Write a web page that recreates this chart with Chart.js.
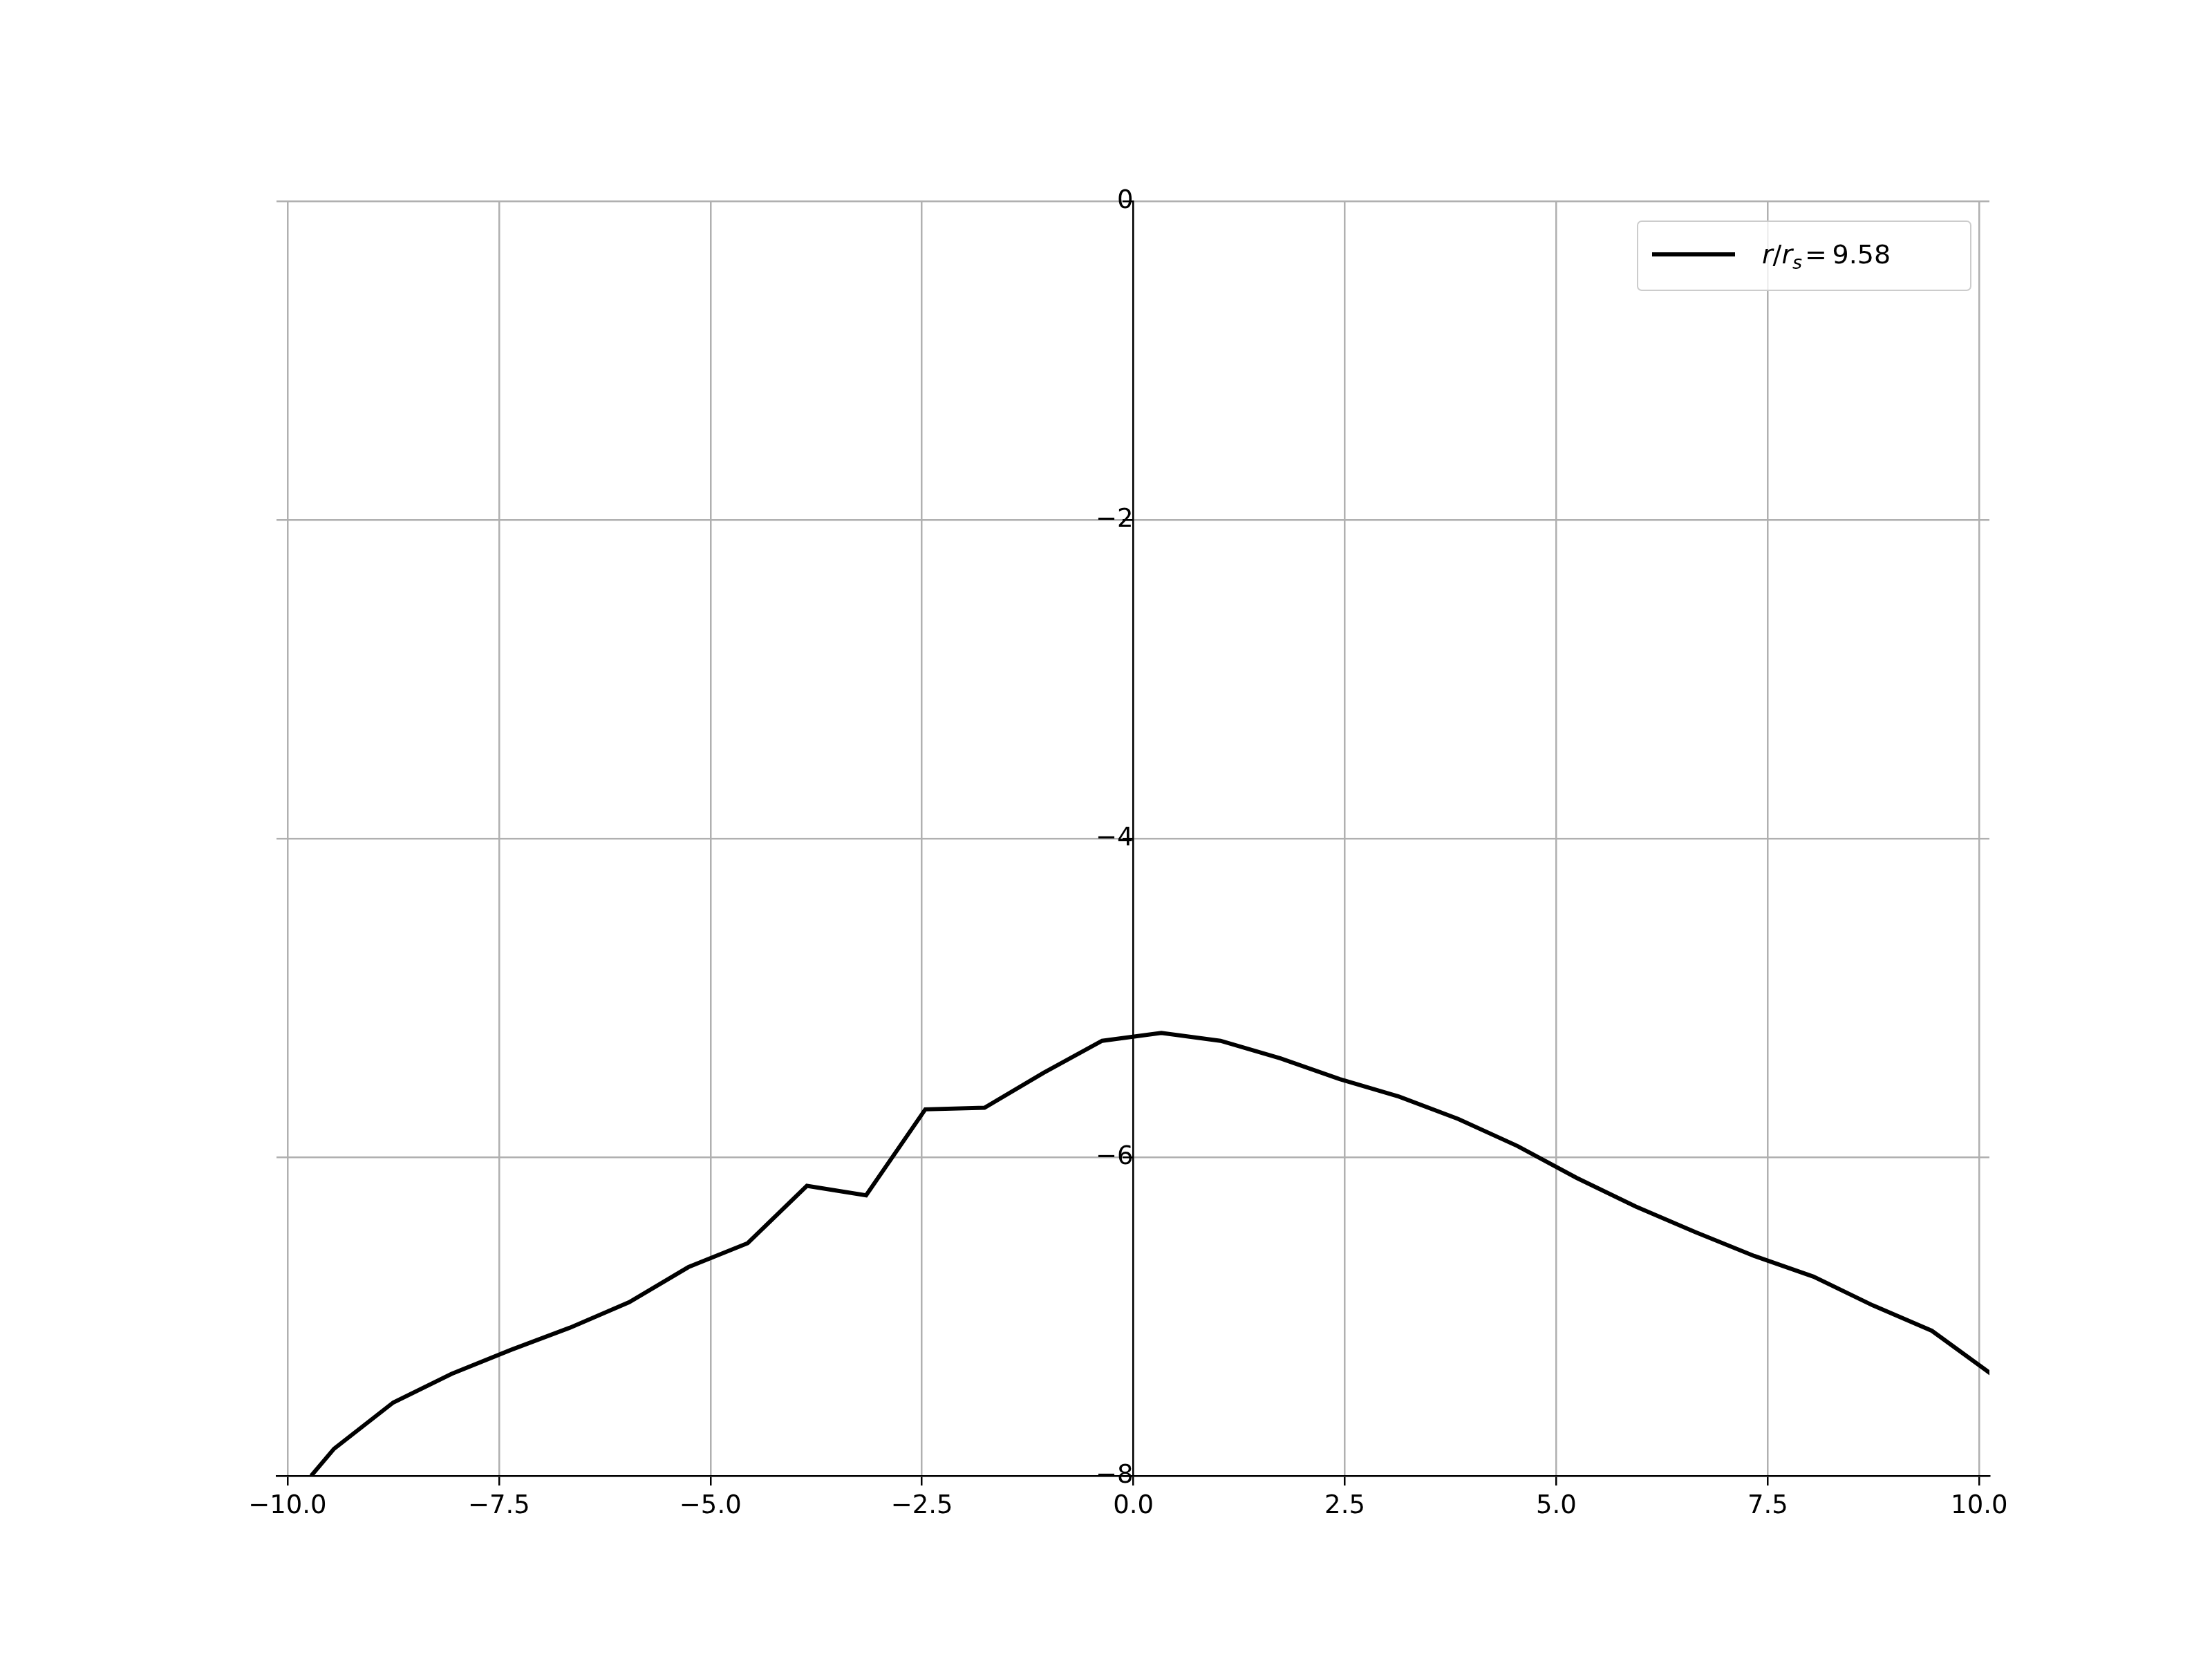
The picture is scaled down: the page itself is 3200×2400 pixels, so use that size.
<!DOCTYPE html>
<html>
<head>
<meta charset="utf-8">
<script src="https://cdn.jsdelivr.net/npm/chart.js@4"></script>
<style>
  body { margin: 0; background: #fff; overflow: hidden; }
  #wrap { width: 3200px; height: 2400px; }
</style>
</head>
<body>
<div id="wrap"><canvas id="myChart" width="3200" height="2400"></canvas></div>
<script>
// data
const xValues = [-9.72, -9.45, -8.75, -8.06, -7.36, -6.66, -5.96, -5.26, -4.56, -3.86, -3.16, -2.46, -1.76, -1.06, -0.37,
  0.33, 1.03, 1.74, 2.44, 3.14, 3.84, 4.54, 5.24, 5.94, 6.64, 7.34, 8.04, 8.74, 9.44, 10.14];
const yValues = [-8.0, -7.83, -7.54, -7.36, -7.21, -7.07, -6.91, -6.69, -6.54, -6.18, -6.24, -5.70, -5.69, -5.47, -5.27,
  -5.22, -5.27, -5.38, -5.51, -5.62, -5.76, -5.93, -6.13, -6.31, -6.47, -6.62, -6.75, -6.93, -7.09, -7.36];
const xTicks = [-10, -7.5, -5, -2.5, 0, 2.5, 5, 7.5, 10];
const yTicks = [-8, -6, -4, -2, 0];

const fmt = v => (v < 0 ? '\u2212' : '') + Math.abs(v);

// legend box, matplotlib style
const legendBox = {
  id: 'legendBox',
  afterDraw(chart) {
    const ctx = chart.ctx;
    const a = chart.chartArea;
    const w = 482, h = 100;
    const x0 = a.right - 27 - w, y0 = a.top + 29;
    ctx.save();
    ctx.fillStyle = 'rgba(255,255,255,0.8)';
    ctx.strokeStyle = '#cccccc';
    ctx.lineWidth = 2;
    ctx.beginPath();
    ctx.roundRect(x0, y0, w, h, 6);
    ctx.fill();
    ctx.stroke();
    ctx.strokeStyle = '#000';
    ctx.lineWidth = 6;
    ctx.beginPath();
    ctx.moveTo(x0 + 21, y0 + 48);
    ctx.lineTo(x0 + 141, y0 + 48);
    ctx.stroke();
    ctx.fillStyle = '#000';
    ctx.textBaseline = 'alphabetic';
    let tx = x0 + 180;
    const base = y0 + 61;
    ctx.font = 'italic 38px "DejaVu Sans"';
    ctx.fillText('r', tx, base); tx += ctx.measureText('r').width;
    ctx.font = '38px "DejaVu Sans"';
    ctx.fillText('/', tx, base); tx += ctx.measureText('/').width;
    ctx.font = 'italic 38px "DejaVu Sans"';
    ctx.fillText('r', tx, base); tx += ctx.measureText('r').width;
    ctx.font = 'italic 27px "DejaVu Sans"';
    ctx.fillText('s', tx, base + 8); tx += ctx.measureText('s').width + 4;
    ctx.font = '38px "DejaVu Sans"';
    ctx.fillText('=\u20099.58', tx, base);
    ctx.restore();
  }
};

const config = {
  type: 'line',
  data: {
    datasets: [{
      label: 'r/r_s = 9.58',
      data: xValues.map((x, i) => ({ x: x, y: yValues[i] })),
      borderColor: '#000',
      borderWidth: 6,
      pointRadius: 0,
      tension: 0
    }]
  },
  options: {
    responsive: false,
    animation: false,
    layout: { padding: { left: 400, right: 322, top: 291, bottom: 185 } },
    plugins: { legend: { display: false }, tooltip: { enabled: false } },
    scales: {
      x: {
        type: 'linear',
        min: -10.13,
        max: 10.12,
        afterBuildTicks: s => { s.ticks = xTicks.map(v => ({ value: v })); },
        afterFit: s => { s.height = 80; },
        ticks: { color: '#000', font: { size: 37, family: 'DejaVu Sans' }, padding: 8,
          callback: v => fmt(v).replace(/^(\u2212?\d+)$/, '$1.0') },
        grid: { color: '#b0b0b0', lineWidth: 2.5, tickLength: 14, tickColor: '#000' },
        border: { color: '#000', width: 2.5 }
      },
      y: {
        type: 'linear',
        position: { x: 0 },
        min: -8,
        max: 0,
        afterBuildTicks: s => { s.ticks = yTicks.map(v => ({ value: v })); },
        ticks: { color: '#000', font: { size: 37, family: 'DejaVu Sans' }, padding: 22, callback: v => fmt(v) },
        grid: { color: '#b0b0b0', lineWidth: 2.5, tickLength: 14, tickColor: '#000' },
        border: { color: '#000', width: 2.5 }
      }
    }
  },
  plugins: [legendBox]
};

const myChart = new Chart(document.getElementById('myChart'), config);
</script>
</body>
</html>
